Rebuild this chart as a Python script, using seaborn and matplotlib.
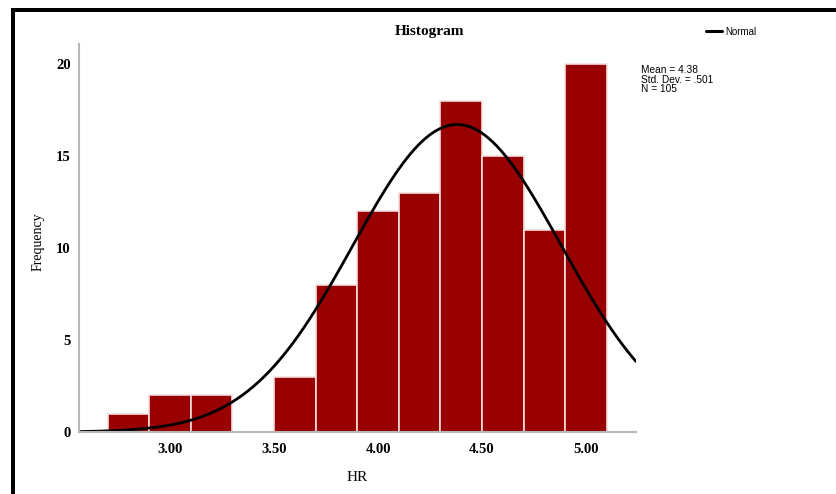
import numpy as np
import pandas as pd
import matplotlib
matplotlib.use("Agg")
import matplotlib.pyplot as plt
from matplotlib.patches import Rectangle
import seaborn as sns

# Histogram of HR: bin edges and frequency per bin
bin_edges = [2.7, 2.9, 3.1, 3.3, 3.5, 3.7, 3.9, 4.1, 4.3, 4.5, 4.7, 4.9, 5.1]
frequencies = [1, 2, 2, 0, 3, 8, 12, 13, 18, 15, 11, 20]

# Summary statistics shown beside the plot
mean_hr = 4.38
std_hr = 0.501
n_hr = 105

x_ticks = [3.0, 3.5, 4.0, 4.5, 5.0]
x_tick_labels = ["3.00", "3.50", "4.00", "4.50", "5.00"]
y_ticks = [0, 5, 10, 15, 20]

sns.set_theme(style="white")
plt.rcParams["text.color"] = "black"
plt.rcParams["xtick.color"] = "black"
plt.rcParams["ytick.color"] = "black"
serif = ["Liberation Serif", "DejaVu Serif"]
sans = ["Liberation Sans", "DejaVu Sans"]

W, H = 837, 494
fig = plt.figure(figsize=(W / 100, H / 100), dpi=100)
ax = fig.add_axes([79 / W, 1 - 432 / H, (636 - 79) / W, (432 - 44) / H])

centers = [(a + b) / 2 for a, b in zip(bin_edges[:-1], bin_edges[1:])]
df = pd.DataFrame({"HR": centers, "count": frequencies})
sns.histplot(data=df, x="HR", weights="count", bins=bin_edges, ax=ax,
             color="#990000", alpha=1.0, edgecolor="#f2dede", linewidth=1.2)

# Fitted normal curve scaled to counts
xmin, xmax = 2.5625, 5.24
bw = bin_edges[1] - bin_edges[0]
xs = np.linspace(xmin, xmax, 400)
ys = n_hr * bw * np.exp(-0.5 * ((xs - mean_hr) / std_hr) ** 2) / (std_hr * np.sqrt(2 * np.pi))
sns.lineplot(x=xs, y=ys, ax=ax, color="black", linewidth=2.0)

ax.set_xlim(xmin, xmax)
ax.set_ylim(0, 21.1)
ax.set_xticks(x_ticks)
ax.set_xticklabels(x_tick_labels, fontfamily=serif, fontsize=10.5, fontweight="bold")
ax.set_yticks(y_ticks)
ax.set_yticklabels([str(v) for v in y_ticks], fontfamily=serif, fontsize=10.5, fontweight="bold")
ax.tick_params(axis="both", length=0, pad=8)
ax.tick_params(axis="y", pad=6)
for s in ["top", "right"]:
    ax.spines[s].set_visible(False)
for s in ["left", "bottom"]:
    ax.spines[s].set_color("#b8b8b8")
    ax.spines[s].set_linewidth(1.5)
ax.set_xlabel("")
ax.set_ylabel("")

fig.text(357 / W, 1 - 477 / H, "HR", ha="center", va="center",
         fontfamily=serif, fontsize=11)
fig.text(38 / W, 1 - 242 / H, "Frequency", ha="center", va="center", rotation=90,
         fontfamily=serif, fontsize=10)
fig.text(430 / W, 1 - 31 / H, "Histogram", ha="center", va="center",
         fontfamily=serif, fontsize=11, fontweight="bold")

# Legend entry for the normal curve
fig.add_artist(plt.Line2D([706 / W, 722 / W], [1 - 31 / H, 1 - 31 / H],
                          color="black", linewidth=2.2))
fig.text(725 / W, 1 - 32 / H, "Normal", ha="left", va="center",
         fontfamily=sans, fontsize=7)

fig.text(641 / W, 1 - 65 / H,
         f"Mean = {mean_hr:.2f}\nStd. Dev. = .{int(round(std_hr * 1000)):03d}\nN = {n_hr}",
         ha="left", va="top", fontfamily=sans, fontsize=7.3, linespacing=0.95)

# Outer frame lines along the top and left
fig.add_artist(Rectangle((11 / W, 0), 4 / W, 1 - 8 / H, transform=fig.transFigure,
                         color="black", lw=0))
fig.add_artist(Rectangle((11 / W, 1 - 12 / H), 1, 4 / H, transform=fig.transFigure,
                         color="black", lw=0))

fig.savefig("out.png", dpi=100)
